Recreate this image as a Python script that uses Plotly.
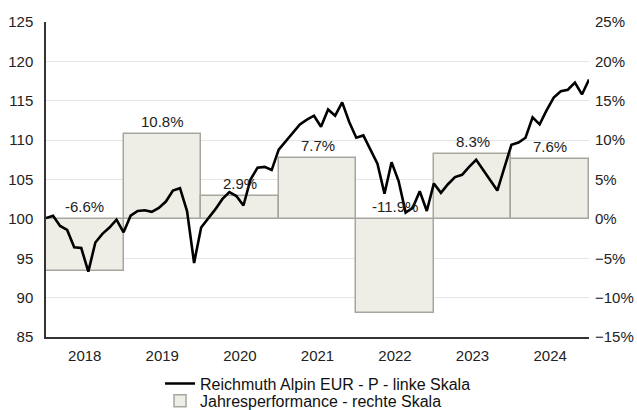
import pandas as pd
import plotly.graph_objects as go

# Fund price index (left scale), sampled at regular intervals from start of 2018 to end of 2024
fund_values = [
    100.1, 100.4, 99.1, 98.6, 96.4, 96.3, 93.3, 97.0, 98.1, 98.9, 99.9, 98.3,
    100.4, 101.0, 101.1, 100.9, 101.4, 102.2, 103.6, 103.9, 101.0, 94.4, 98.9, 100.0,
    101.2, 102.5, 103.4, 102.9, 101.7, 105.0, 106.5, 106.6, 106.2, 108.8, 109.9, 111.0,
    112.0, 112.6, 113.1, 111.7, 113.9, 113.1, 114.8, 112.3, 110.3, 110.6, 108.9, 107.0,
    103.2, 107.2, 104.8, 100.8, 101.4, 103.5, 101.0, 104.5, 103.3, 104.4, 105.3, 105.6,
    106.6, 107.5, 106.2, 104.9, 103.6, 106.5, 109.4, 109.7, 110.3, 112.9, 112.0, 113.8,
    115.4, 116.2, 116.4, 117.3, 115.8, 117.7,
]
fund_dates = pd.date_range("2018-01-01", "2025-01-01", periods=len(fund_values))

# Annual performance in percent (right scale)
years = [2018, 2019, 2020, 2021, 2022, 2023, 2024]
annual_perf = [-6.6, 10.8, 2.9, 7.7, -11.9, 8.3, 7.6]

FONT = "Arial, Liberation Sans, sans-serif"
TEXT = "#222222"

year_start = [pd.Timestamp(f"{y}-01-01") for y in years]
year_end = [pd.Timestamp(f"{y + 1}-01-01") for y in years]
year_mid = [s + (e - s) / 2 for s, e in zip(year_start, year_end)]
year_width = [(e - s).total_seconds() * 1000 for s, e in zip(year_start, year_end)]

fig = go.Figure()

# Bars live on the base (percent) axis so the price line on the overlay draws on top
fig.add_trace(go.Bar(
    x=year_mid,
    y=annual_perf,
    width=year_width,
    yaxis="y",
    name="Jahresperformance - rechte Skala",
    marker=dict(color="#efeee6", line=dict(color="#a6a69e", width=1.5)),
    legend="legend2",
    hoverinfo="skip",
))

fig.add_trace(go.Scatter(
    x=fund_dates,
    y=fund_values,
    yaxis="y2",
    mode="lines",
    name="Reichmuth Alpin EUR - P - linke Skala",
    line=dict(color="#000000", width=2.6),
    legend="legend",
))

for xm, v in zip(year_mid, annual_perf):
    fig.add_annotation(
        x=xm, y=max(v, 0), xref="x", yref="y",
        text=f"{v:.1f}%", showarrow=False,
        yanchor="bottom", yshift=2,
        font=dict(family=FONT, size=15, color=TEXT),
    )

legend_style = dict(
    orientation="v",
    x=0.21, xanchor="left",
    yanchor="top",
    font=dict(family=FONT, size=16, color="#111111"),
    tracegroupgap=0, itemwidth=30,
    bgcolor="rgba(0,0,0,0)",
)

fig.update_layout(
    width=637, height=410,
    margin=dict(l=46, r=48, t=22, b=73, autoexpand=False),
    paper_bgcolor="white", plot_bgcolor="white",
    font=dict(family=FONT, size=15, color=TEXT),
    showlegend=True,
    legend=dict(legend_style, y=-0.094),
    legend2=dict(legend_style, y=-0.149),
    bargap=0,
    xaxis=dict(
        type="date",
        range=["2018-01-01", "2025-01-01"],
        tickvals=year_mid,
        ticktext=[str(y) for y in years],
        showgrid=False,
        showline=True, linecolor="#333333", linewidth=2,
        ticks="", ticklabelstandoff=4,
        tickfont=dict(family=FONT, size=15, color=TEXT),
    ),
    # Percent scale on the right (base axis, carries the gridlines)
    yaxis=dict(
        side="right",
        range=[-15, 25], dtick=5, ticksuffix="%",
        showgrid=True, gridcolor="#e6e6e6", gridwidth=1,
        zeroline=False, showline=False,
        ticks="", ticklabelstandoff=5,
        tickfont=dict(family=FONT, size=15, color=TEXT),
    ),
    # Price scale on the left
    yaxis2=dict(
        overlaying="y", side="left",
        range=[85, 125], dtick=5,
        showgrid=False, zeroline=False,
        showline=True, linecolor="#333333", linewidth=1.5,
        ticks="", ticklabelstandoff=8,
        tickfont=dict(family=FONT, size=15, color=TEXT),
    ),
)

fig.write_html("out.html")
